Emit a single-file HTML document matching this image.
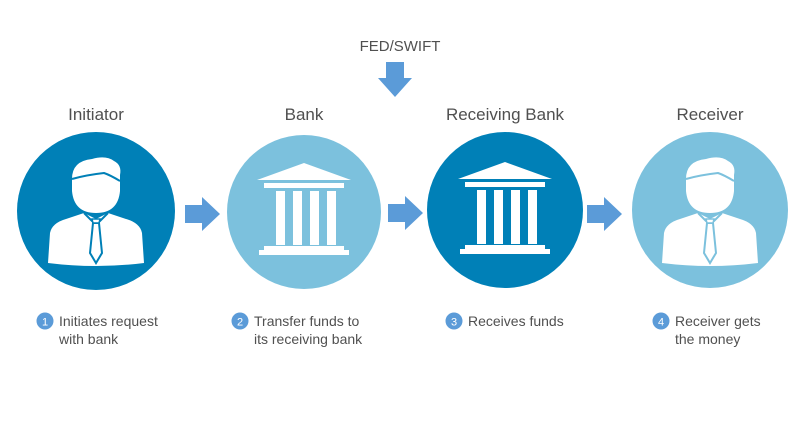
<!DOCTYPE html>
<html><head><style>
body{margin:0;background:#fff;width:800px;height:418px;overflow:hidden}
svg text{font-family:"Liberation Sans",sans-serif;fill:#505050}
</style></head><body>
<svg width="800" height="418" viewBox="0 0 800 418">
<defs>
<g id="person">
  <path d="M-48,52 L-46,22 Q-44,12 -30,8 L-12,2 L0,8 L12,2 L30,8 Q44,12 46,22 L48,52 Q0,58 -48,52 Z" fill="#fff"/>
  <path d="M-12,2 L-4,10 L0,8 L4,10 L12,2" stroke="currentColor" stroke-width="2" fill="none"/>
  <path d="M-3,12 L3,12 L6,42 L0,52 L-6,42 Z" stroke="currentColor" stroke-width="2" fill="#fff"/>
  <path d="M-4,8 L4,8 L3,12 L-3,12 Z" stroke="currentColor" stroke-width="1.5" fill="#fff"/>
  <path d="M-24,-32 Q-24,-50 -4,-52 Q10,-56 18,-50 Q26,-46 24,-36 L24,-20 Q22,2 0,2 Q-22,2 -24,-20 Z" fill="#fff"/>
  <path d="M-24,-32 Q-10,-36 8,-38 Q14,-36 24,-30" stroke="currentColor" stroke-width="2" fill="none"/>
</g>
<g id="bank">
  <path d="M0,-48 L47,-31 L-47,-31 Z" fill="#fff"/>
  <rect x="-40" y="-28" width="80" height="5" fill="#fff"/>
  <rect x="-28" y="-20" width="9" height="54" fill="#fff"/>
  <rect x="-11" y="-20" width="9" height="54" fill="#fff"/>
  <rect x="6" y="-20" width="9" height="54" fill="#fff"/>
  <rect x="23" y="-20" width="9" height="54" fill="#fff"/>
  <rect x="-40" y="35" width="80" height="4" fill="#fff"/>
  <rect x="-45" y="39" width="90" height="5" fill="#fff"/>
</g>
<path id="arr" d="M0,-9 L17,-9 L17,-17 L35,0 L17,17 L17,9 L0,9 Z" fill="#5b9bd8"/>
</defs>

<text x="400" y="51" font-size="15" text-anchor="middle">FED/SWIFT</text>
<path d="M386,62 L404,62 L404,78 L412,78 L395,97 L378,78 L386,78 Z" fill="#5b9bd8"/>

<text x="96" y="120" font-size="17" text-anchor="middle">Initiator</text>
<text x="304" y="120" font-size="17" text-anchor="middle">Bank</text>
<text x="505" y="120" font-size="17" text-anchor="middle">Receiving Bank</text>
<text x="710" y="120" font-size="17" text-anchor="middle">Receiver</text>

<circle cx="96" cy="211" r="79" fill="#0080b7"/>
<g transform="translate(96,211)" color="#0080b7"><use href="#person"/></g>
<circle cx="304" cy="212" r="77" fill="#7cc1dd"/>
<g transform="translate(304,211)"><use href="#bank"/></g>
<circle cx="505" cy="210" r="78" fill="#0080b7"/>
<g transform="translate(505,210)"><use href="#bank"/></g>
<circle cx="710" cy="210" r="78" fill="#7cc1dd"/>
<g transform="translate(710,211)" color="#7cc1dd"><use href="#person"/></g>

<use href="#arr" x="185" y="214"/>
<use href="#arr" x="388" y="213"/>
<use href="#arr" x="587" y="214"/>

<g font-size="14">
<circle cx="45" cy="321" r="8.5" fill="#5b9bd8"/><text x="45" y="325.5" font-size="11" text-anchor="middle" style="fill:#fff">1</text>
<text x="59" y="326">Initiates request</text><text x="59" y="344">with bank</text>
<circle cx="240" cy="321" r="8.5" fill="#5b9bd8"/><text x="240" y="325.5" font-size="11" text-anchor="middle" style="fill:#fff">2</text>
<text x="254" y="326">Transfer funds to</text><text x="254" y="344">its receiving bank</text>
<circle cx="454" cy="321" r="8.5" fill="#5b9bd8"/><text x="454" y="325.5" font-size="11" text-anchor="middle" style="fill:#fff">3</text>
<text x="468" y="326">Receives funds</text>
<circle cx="661" cy="321" r="8.5" fill="#5b9bd8"/><text x="661" y="325.5" font-size="11" text-anchor="middle" style="fill:#fff">4</text>
<text x="675" y="326">Receiver gets</text><text x="675" y="344">the money</text>
</g>
</svg>
</body></html>
